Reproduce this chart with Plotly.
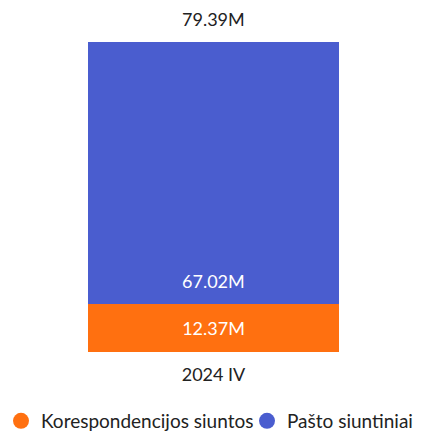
import plotly.graph_objects as go

categories = ["2024 IV"]
series_names = ["Korespondencijos siuntos", "Pašto siuntiniai"]
korespondencija = [12.37]
siuntiniai = [67.02]
totals = [79.39]
colors = ["#ff7010", "#4a5dcf"]

FONT = "Lato"
FS = 18
TXT = "#222222"

# plot area (figure px; page adds an 8px body margin)
L, T, PW, PH = 49, 34, 313, 310
W, H = 421, 432

fig = go.Figure()
fig.add_trace(go.Bar(
    x=categories, y=korespondencija, name=series_names[0],
    marker=dict(color=colors[0], line=dict(width=0)),
    text=[f"{v:.2f}M" for v in korespondencija], textposition="inside",
    insidetextanchor="middle", textfont=dict(color="white", size=FS, family=FONT),
    showlegend=False, hoverinfo="skip",
))
fig.add_trace(go.Bar(
    x=categories, y=siuntiniai, name=series_names[1],
    marker=dict(color=colors[1], line=dict(width=0)),
    showlegend=False, hoverinfo="skip",
))
for i, (name, c) in enumerate(zip(series_names, colors)):
    fig.add_trace(go.Scatter(
        x=[None], y=[None], mode="markers", name=name,
        marker=dict(color=c, size=19, symbol="circle"),
        legend="legend" if i == 0 else "legend2",
    ))

for cat, base, v in zip(categories, korespondencija, siuntiniai):
    fig.add_annotation(x=cat, y=base, text=f"{v:.2f}M", showarrow=False,
                       yanchor="middle", yshift=23,
                       font=dict(size=FS, color="white", family=FONT))

for cat, t in zip(categories, totals):
    fig.add_annotation(x=cat, y=t, text=f"{t:.2f}M", showarrow=False,
                       yanchor="bottom", yshift=10,
                       font=dict(size=FS, color=TXT, family=FONT))

leg_common = dict(orientation="h", yref="container", xref="paper",
                  y=1 - 413 / H, yanchor="middle", xanchor="left",
                  font=dict(size=19, color=TXT, family=FONT),
                  itemsizing="trace", itemwidth=30,
                  bgcolor="rgba(0,0,0,0)", borderwidth=0)

fig.update_layout(
    width=W, height=H,
    barmode="stack", bargap=0.2,
    plot_bgcolor="white", paper_bgcolor="white",
    margin=dict(l=L, r=W - L - PW, t=T, b=H - T - PH, autoexpand=False),
    font=dict(family=FONT, size=FS, color=TXT),
    xaxis=dict(showgrid=False, showline=False, zeroline=False,
               tickfont=dict(size=FS, color=TXT, family=FONT), ticks="",
               ticklabelstandoff=10),
    yaxis=dict(visible=False, range=[0, totals[0]]),
    legend=dict(x=(-7 - L) / PW, **leg_common),
    legend2=dict(x=(239 - L) / PW, **leg_common),
    uniformtext=dict(mode=False),
)
fig.write_html("out.html")
